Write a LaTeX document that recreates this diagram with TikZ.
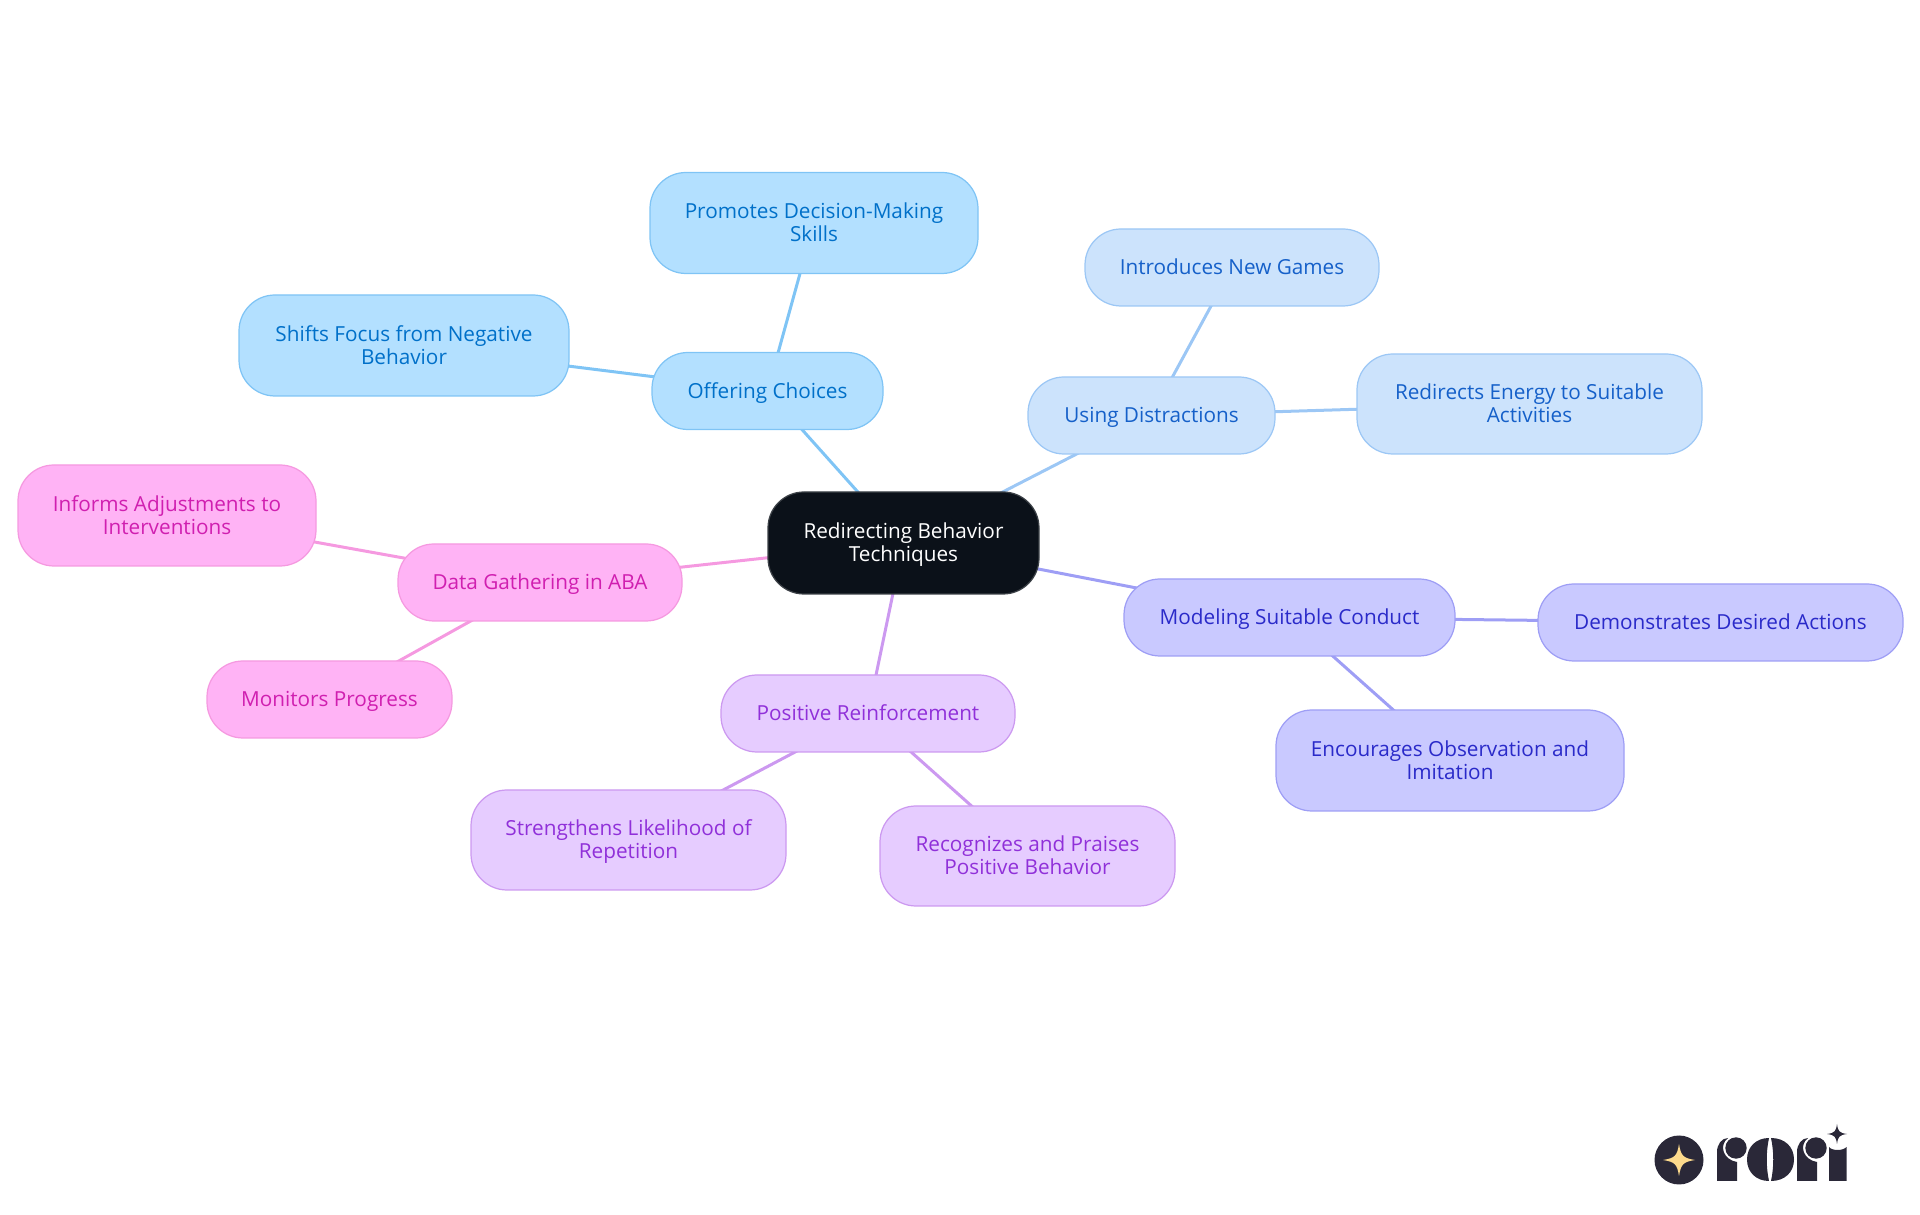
\documentclass[tikz,border=0pt]{standalone}
\usepackage{fontspec}
\setmainfont{Open Sans}
\usetikzlibrary{backgrounds}
\definecolor{rootfill}{HTML}{0B1119}
\definecolor{bluefill}{HTML}{B3E0FF}
\definecolor{blueline}{HTML}{7FC4F5}
\definecolor{bluetext}{HTML}{0070C9}
\definecolor{skyfill}{HTML}{CCE3FC}
\definecolor{skyline}{HTML}{9CC7F5}
\definecolor{skytext}{HTML}{1560C9}
\definecolor{indigofill}{HTML}{C9C9FF}
\definecolor{indigoline}{HTML}{9E9EF5}
\definecolor{indigotext}{HTML}{2A2AC9}
\definecolor{violetfill}{HTML}{E6CCFF}
\definecolor{violetline}{HTML}{CC99F0}
\definecolor{violettext}{HTML}{9030D9}
\definecolor{pinkfill}{HTML}{FFB3F5}
\definecolor{pinkline}{HTML}{F599E0}
\definecolor{pinktext}{HTML}{D01FB0}
\definecolor{logodark}{HTML}{2A2838}
\definecolor{logostar}{HTML}{FCD98C}
\tikzset{
  topic/.style={rounded corners=0.36cm,align=center,inner sep=0pt,line width=0.35pt,font=\fontsize{5.9pt}{6.54pt}\selectfont,text height=6pt,text depth=1.96pt},
  twoline/.style={text height=12.6pt,text depth=1.8pt},
  rootnode/.style={topic,twoline,fill=rootfill,draw=rootfill!80!white,text=white,minimum width=2.71cm,minimum height=1.02cm},
  bluenode/.style={topic,fill=bluefill,draw=blueline,text=bluetext},
  skynode/.style={topic,fill=skyfill,draw=skyline,text=skytext},
  indigonode/.style={topic,fill=indigofill,draw=indigoline,text=indigotext},
  violetnode/.style={topic,fill=violetfill,draw=violetline,text=violettext},
  pinknode/.style={topic,fill=pinkfill,draw=pinkline,text=pinktext},
  link/.style={line width=0.3mm}
}
\begin{document}
\begin{tikzpicture}[x=0.1mm,y=-0.1mm]
\useasboundingbox (0,0) rectangle (1920,1215);
\node[rootnode] (root) at (903.5,543) {Redirecting Behavior\\Techniques};
\node[bluenode,minimum width=2.31cm,minimum height=0.77cm] (choices) at (767.5,391) {Offering Choices};
\node[bluenode,twoline,minimum width=3.28cm,minimum height=1.01cm] (decision) at (814,223) {Promotes Decision-Making\\Skills};
\node[bluenode,twoline,minimum width=3.30cm,minimum height=1.01cm] (shifts) at (404,345.5) {Shifts Focus from Negative\\Behavior};
\node[skynode,minimum width=2.47cm,minimum height=0.77cm] (distract) at (1151.5,415.5) {Using Distractions};
\node[skynode,minimum width=2.94cm,minimum height=0.77cm] (games) at (1232,267.5) {Introduces New Games};
\node[skynode,twoline,minimum width=3.45cm,minimum height=1.00cm] (energy) at (1529.5,404) {Redirects Energy to Suitable\\Activities};
\node[indigonode,minimum width=3.31cm,minimum height=0.77cm] (model) at (1289.5,617.5) {Modeling Suitable Conduct};
\node[indigonode,minimum width=3.65cm,minimum height=0.77cm] (actions) at (1720.5,622.5) {Demonstrates Desired Actions};
\node[indigonode,twoline,minimum width=3.48cm,minimum height=1.01cm] (imitate) at (1450,760.5) {Encourages Observation and\\Imitation};
\node[violetnode,minimum width=2.94cm,minimum height=0.77cm] (reinforce) at (868,713.5) {Positive Reinforcement};
\node[violetnode,twoline,minimum width=3.15cm,minimum height=1.00cm] (repeat) at (628.5,840) {Strengthens Likelihood of\\Repetition};
\node[violetnode,twoline,minimum width=2.95cm,minimum height=1.00cm] (praise) at (1027.5,856) {Recognizes and Praises\\Positive Behavior};
\node[pinknode,minimum width=2.84cm,minimum height=0.77cm] (data) at (540,582.5) {Data Gathering in ABA};
\node[pinknode,twoline,minimum width=2.98cm,minimum height=1.01cm] (adjust) at (167,515.5) {Informs Adjustments to\\Interventions};
\node[pinknode,minimum width=2.45cm,minimum height=0.77cm] (progress) at (329.5,699.5) {Monitors Progress};
\begin{pgfonlayer}{background}
\draw[link,blueline] (root.center) -- (choices.center);
\draw[link,blueline] (choices.center) -- (decision.center);
\draw[link,blueline] (choices.center) -- (shifts.center);
\draw[link,skyline] (root.center) -- (distract.center);
\draw[link,skyline] (distract.center) -- (games.center);
\draw[link,skyline] (distract.center) -- (energy.center);
\draw[link,indigoline] (root.center) -- (model.center);
\draw[link,indigoline] (model.center) -- (actions.center);
\draw[link,indigoline] (model.center) -- (imitate.center);
\draw[link,violetline] (root.center) -- (reinforce.center);
\draw[link,violetline] (reinforce.center) -- (repeat.center);
\draw[link,violetline] (reinforce.center) -- (praise.center);
\draw[link,pinkline] (root.center) -- (data.center);
\draw[link,pinkline] (data.center) -- (adjust.center);
\draw[link,pinkline] (data.center) -- (progress.center);
\end{pgfonlayer}
% logo
\fill[logodark] (1679,1160) circle (24.5);
\fill[logostar] (1679,1144) .. controls (1681,1156) and (1683,1158) .. (1695,1160) .. controls (1683,1162) and (1681,1164) .. (1679,1176) .. controls (1677,1164) and (1675,1162) .. (1663,1160) .. controls (1675,1158) and (1677,1156) .. (1679,1144) -- cycle;
\fill[logodark] (1717,1181) -- (1717,1152) .. controls (1717,1144) and (1722,1138) .. (1728,1138) .. controls (1718,1146) and (1724,1160) .. (1737,1162) -- (1737,1181) -- cycle;
\fill[logodark] (1736,1148) circle (10.7);
\fill[logodark] (1769,1181) .. controls (1756,1181) and (1747,1172) .. (1747,1159.5) .. controls (1747,1147) and (1756,1138) .. (1769,1138) .. controls (1766,1152) and (1766,1167) .. (1769,1181) -- cycle;
\fill[logodark] (1771,1181) .. controls (1785,1181) and (1794,1172) .. (1794,1159.5) .. controls (1794,1147) and (1785,1138) .. (1771,1138) .. controls (1774,1152) and (1774,1167) .. (1771,1181) -- cycle;
\fill[logodark] (1797,1181) -- (1797,1152) .. controls (1797,1144) and (1802,1138) .. (1808,1138) .. controls (1798,1146) and (1804,1160) .. (1817,1162) -- (1817,1181) -- cycle;
\fill[logodark] (1816,1148) circle (10.7);
\fill[logodark] (1829,1181) -- (1829,1147) .. controls (1832,1151) and (1843,1151) .. (1846.5,1147) -- (1846.5,1181) -- cycle;
\fill[logodark] (1837,1124) .. controls (1838,1131) and (1839,1133) .. (1847,1134) .. controls (1839,1135) and (1838,1137) .. (1837,1144) .. controls (1836,1137) and (1835,1135) .. (1827,1134) .. controls (1835,1133) and (1836,1131) .. (1837,1124) -- cycle;
\end{tikzpicture}
\end{document}
